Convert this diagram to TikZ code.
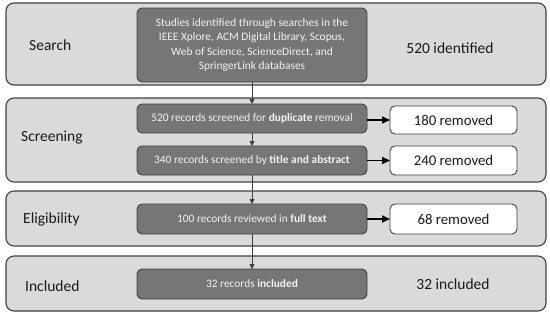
\documentclass[tikz,border=0pt]{standalone}
\usepackage{fontspec}
\setmainfont{Carlito}
\usetikzlibrary{arrows.meta}
\definecolor{panelfill}{HTML}{DADADA}
\definecolor{edge}{HTML}{3F3F3F}
\definecolor{darkfill}{HTML}{767676}
\definecolor{boxtext}{HTML}{F2F2F2}
\definecolor{ink}{HTML}{1A1A1A}
\tikzset{
  panel/.style={draw=edge, line width=1.1pt, fill=panelfill, rounded corners=8pt,
    minimum width=540pt, inner sep=0pt, outer sep=0pt},
  darkbox/.style={draw=edge, line width=0.9pt, fill=darkfill, rounded corners=5pt,
    minimum width=230pt, inner sep=0pt, outer sep=0pt, text=boxtext,
    font=\fontsize{11.4}{14.2}\selectfont, align=center},
  whitebox/.style={draw=edge, line width=0.9pt, fill=white, rounded corners=5pt,
    minimum width=127pt, inner sep=0pt, outer sep=0pt, text=ink,
    font=\fontsize{14.8}{18}\selectfont},
  stage/.style={text=ink, font=\fontsize{15.5}{18}\selectfont, inner sep=0pt, anchor=west},
  count/.style={text=ink, font=\fontsize{15.5}{18}\selectfont, inner sep=0pt},
  down/.style={draw=edge, line width=0.8pt, -{Triangle[length=5pt,width=5pt]}},
  side/.style={draw=black, line width=1.8pt, -{Triangle[length=8pt,width=7pt]}}
}
\begin{document}
\begin{tikzpicture}[x=1pt,y=-1pt]
\useasboundingbox (0,0) rectangle (550,316);
% panels
\node[panel, minimum height=82pt] (p1) at (276,44) {};
\node[panel, minimum height=84pt] (p2) at (276,140) {};
\node[panel, minimum height=55pt] (p3) at (276,218.5) {};
\node[panel, minimum height=55pt] (p4) at (276,283.5) {};
% stage labels
\node[stage] (l1) at (29,45) {Search};
\node[stage] (l2) at (21,137) {Screening};
\node[stage] (l3) at (23,219) {Eligibility};
\node[stage] (l4) at (25,286) {Included};
% counts
\node[count] (c1) at (450,48) {520 identified};
\node[count] (c4) at (453,284) {32 included};
% dark boxes
\node[darkbox, minimum height=74pt] (s) at (252,45)
  {Studies identified through searches in the\\IEEE Xplore, ACM Digital Library, Scopus,\\Web of Science, ScienceDirect, and\\SpringerLink databases};
\node[darkbox, minimum height=29pt] (d1) at (252,118.5) {520 records screened for \textbf{duplicate} removal};
\node[darkbox, minimum height=29pt] (d2) at (252,160.5) {340 records screened by \textbf{title and abstract}};
\node[darkbox, minimum height=30pt] (e) at (252,219) {100 records reviewed in \textbf{full text}};
\node[darkbox, minimum height=30pt] (i) at (252,284) {32 records \textbf{included}};
% white boxes
\node[whitebox, minimum height=28pt] (r1) at (453.5,120) {180 removed};
\node[whitebox, minimum height=29pt] (r2) at (453.5,160.5) {240 removed};
\node[whitebox, minimum height=30pt] (r3) at (453.5,219) {68 removed};
% connectors
\draw[down] (s) -- (d1);
\draw[down] (d1) -- (d2);
\draw[down] (d2) -- (e);
\draw[down] (e) -- (i);
\draw[side] (d1.east |- r1.west) -- (r1.west);
\draw[side] (d2) -- (r2);
\draw[side] (e) -- (r3);
\end{tikzpicture}
\end{document}
